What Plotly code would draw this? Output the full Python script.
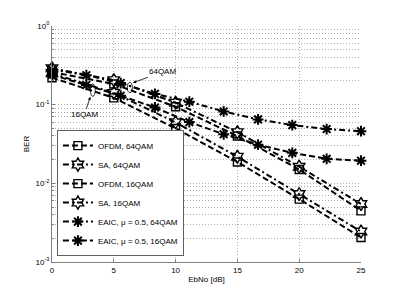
import math
import plotly.graph_objects as go

# ---- data ----
ebno_main = [0, 5, 10, 15, 20, 25]
ebno_eaic = [0, 2.78, 5.56, 8.33, 11.11, 13.89, 16.67, 19.44, 22.22, 25]

ber_ofdm_64 = [0.26, 0.183, 0.094, 0.040, 0.0150, 0.00447]
ber_sa_64 = [0.29, 0.205, 0.106, 0.0447, 0.0163, 0.00546]
ber_ofdm_16 = [0.22, 0.122, 0.050, 0.0187, 0.0063, 0.00205]
ber_sa_16 = [0.25, 0.141, 0.0596, 0.0218, 0.0073, 0.00244]
ber_eaic_64 = [0.28, 0.237, 0.188, 0.137, 0.109, 0.082, 0.065, 0.055, 0.049, 0.046]
ber_eaic_16 = [0.24, 0.178, 0.130, 0.092, 0.060, 0.042, 0.031, 0.0244, 0.0205, 0.0194]

x_ticks = [0, 5, 10, 15, 20, 25]
y_tickvals = [1e-3, 1e-2, 1e-1, 1]
y_ticktext = ["10<sup>-3</sup>", "10<sup>-2</sup>", "10<sup>-1</sup>", "10<sup>0</sup>"]

FONT = "Liberation Sans, Arial, Helvetica, sans-serif"
BLACK = "#000000"

series = [
    ("OFDM, 64QAM", ebno_main, ber_ofdm_64, "6px,3px", "square-open", 8),
    ("SA, 64QAM", ebno_main, ber_sa_64, "6px,3px,2px,3px", "hexagram-open", 10),
    ("OFDM, 16QAM", ebno_main, ber_ofdm_16, "6px,3px", "square-open", 8),
    ("SA, 16QAM", ebno_main, ber_sa_16, "6px,3px,2px,3px", "hexagram-open", 10),
    ("EAIC, \u03bc = 0.5, 64QAM", ebno_eaic, ber_eaic_64, "6px,3px,2px,3px", "asterisk-open", 9),
    ("EAIC, \u03bc = 0.5, 16QAM", ebno_eaic, ber_eaic_16, "6px,3px", "asterisk-open", 9),
]

fig = go.Figure()
for name, xs, ys, dash, sym, size in series:
    fig.add_trace(go.Scatter(
        x=xs, y=ys, name=name, mode="lines+markers", cliponaxis=False,
        line=dict(color=BLACK, width=2, dash=dash),
        marker=dict(symbol=sym, size=size, color=BLACK,
                    line=dict(color=BLACK, width=2 if "asterisk" in sym else 1.4)),
    ))

# ellipses marking the groups (data coordinates)
for (xc, yc, dx, fy) in [(3.3, 0.153, 0.2, 1.2), (6.3, 0.165, 0.2, 1.16)]:
    fig.add_shape(type="circle", xref="x", yref="y",
                  x0=xc - dx, x1=xc + dx, y0=yc / fy, y1=yc * fy,
                  line=dict(color=BLACK, width=0.8))

fig.add_annotation(x=6.55, y=math.log10(0.19), text="64QAM",
                   showarrow=True, arrowhead=2, arrowsize=0.8, arrowwidth=0.8,
                   arrowcolor=BLACK, ax=30, ay=-11, standoff=0,
                   font=dict(family=FONT, size=8, color=BLACK))
fig.add_annotation(x=3.1, y=math.log10(0.126), text="16QAM",
                   showarrow=True, arrowhead=2, arrowsize=0.8, arrowwidth=0.8,
                   arrowcolor=BLACK, ax=-6, ay=18, standoff=0,
                   font=dict(family=FONT, size=8, color=BLACK))

grid = "#b0b0b0"
gdash = "1px,2px"
fig.update_layout(
    width=391, height=286,
    margin=dict(l=44, r=38, t=14, b=32),
    paper_bgcolor="white", plot_bgcolor="white",
    font=dict(family=FONT, size=8, color=BLACK),
    showlegend=True,
    legend=dict(x=0.016, y=0.025, xanchor="left", yanchor="bottom",
                bgcolor="white", bordercolor="#606060", borderwidth=1,
                font=dict(family=FONT, size=8, color=BLACK),
                itemwidth=30, tracegroupgap=0),
    xaxis=dict(range=[0, 25], tickvals=x_ticks, showgrid=True, gridcolor=grid,
               griddash=gdash, gridwidth=1, zeroline=False,
               showline=True, linecolor="#808080", linewidth=1,
               ticks="inside", ticklen=3, tickcolor="#808080",
               title=dict(text="EbNo [dB]", standoff=2, font=dict(size=8)),
               tickfont=dict(size=8)),
    yaxis=dict(type="log", range=[-3, 0], tickvals=y_tickvals, ticktext=y_ticktext,
               showgrid=True, gridcolor=grid, griddash=gdash, gridwidth=1,
               zeroline=False, showline=True, linecolor="#808080", linewidth=1,
               ticks="inside", ticklen=3, tickcolor="#808080",
               minor=dict(dtick="D1", showgrid=True, gridcolor=grid, griddash=gdash,
                          gridwidth=1, ticks="inside", ticklen=2, tickcolor="#808080"),
               title=dict(text="BER", standoff=4, font=dict(size=8)),
               tickfont=dict(size=8)),
)

fig.write_html("out.html")
